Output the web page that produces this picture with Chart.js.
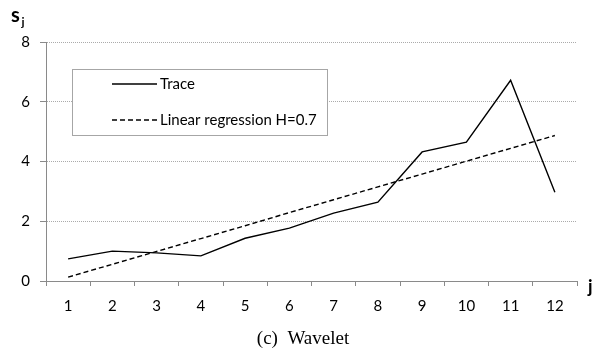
<!DOCTYPE html>
<html>
<head>
<meta charset="utf-8">
<script src="https://cdn.jsdelivr.net/npm/chart.js@4/dist/chart.umd.min.js"></script>
<style>
  html, body { margin: 0; padding: 0; background: #fff; }
  #wrap { width: 603px; height: 354px; position: relative; }
</style>
</head>
<body>
<div id="wrap"><canvas id="c" width="603" height="354"></canvas></div>
<script>
// Scale index j
const categories = ['1', '2', '3', '4', '5', '6', '7', '8', '9', '10', '11', '12'];
// Wavelet estimator s_j per scale
const traceValues = [0.74, 1.00, 0.94, 0.84, 1.43, 1.77, 2.27, 2.64, 4.32, 4.65, 6.72, 2.97];
// Fitted regression line (H = 0.7)
const regressionValues = [0.13, 0.56, 0.99, 1.42, 1.85, 2.29, 2.72, 3.15, 3.58, 4.01, 4.44, 4.87];
const yTicks = [0, 2, 4, 6, 8];
const seriesNames = ['Trace', 'Linear regression H=0.7'];
const captionText = '(c)  Wavelet';

const uiFont = 'Lato, "Open Sans", sans-serif';
const axisGray = '#8a8a8a';

// Boxed legend inside the plot area, drawn from the dataset styles
const boxLegend = {
  id: 'boxLegend',
  afterDatasetsDraw(chart) {
    const ctx = chart.ctx;
    const x0 = 72, y0 = 69, w = 255, h = 66;
    ctx.save();
    ctx.fillStyle = '#fff';
    ctx.fillRect(x0, y0, w, h);
    ctx.strokeStyle = '#a6a6a6';
    ctx.lineWidth = 1;
    ctx.strokeRect(x0 + 0.5, y0 + 0.5, w, h);
    const rows = [84, 120];
    chart.data.datasets.forEach((ds, i) => {
      const y = rows[i];
      ctx.beginPath();
      ctx.setLineDash(ds.borderDash || []);
      ctx.strokeStyle = ds.borderColor;
      ctx.lineWidth = 1.3;
      ctx.moveTo(112, y);
      ctx.lineTo(157, y);
      ctx.stroke();
      ctx.setLineDash([]);
      ctx.fillStyle = '#000';
      ctx.font = '15px ' + uiFont;
      ctx.textBaseline = 'middle';
      ctx.textAlign = 'left';
      ctx.fillText(ds.label, 160, y);
    });
    ctx.restore();
  }
};

// Axis names and figure caption
const annotations = {
  id: 'annotations',
  afterDraw(chart) {
    const ctx = chart.ctx;
    ctx.save();
    ctx.fillStyle = '#000';
    ctx.textBaseline = 'alphabetic';
    ctx.textAlign = 'left';
    ctx.font = 'bold 20px ' + uiFont;
    ctx.fillText('s', 11, 22);
    ctx.font = 'bold 12px ' + uiFont;
    ctx.fillText('j', 21.5, 26);
    ctx.font = 'bold 18px ' + uiFont;
    ctx.fillText('j', 588, 293);
    ctx.font = '19px "Liberation Serif", "Times New Roman", serif';
    ctx.textAlign = 'center';
    ctx.fillText(captionText, 303, 344);
    ctx.restore();
  }
};

new Chart(document.getElementById('c'), {
  type: 'line',
  data: {
    labels: categories,
    datasets: [
      {
        label: seriesNames[0],
        data: traceValues,
        borderColor: '#000',
        borderWidth: 1.4,
        pointRadius: 0,
        tension: 0,
        fill: false
      },
      {
        label: seriesNames[1],
        data: regressionValues,
        borderColor: '#000',
        borderWidth: 1.4,
        borderDash: [5, 3],
        pointRadius: 0,
        tension: 0,
        fill: false
      }
    ]
  },
  options: {
    responsive: false,
    animation: false,
    devicePixelRatio: 1,
    layout: { padding: { left: 0, top: 42, right: 26, bottom: 0 } },
    plugins: {
      legend: { display: false },
      tooltip: { enabled: false }
    },
    scales: {
      x: {
        type: 'category',
        offset: true,
        afterFit(scale) { scale.height = 73; },
        grid: {
          offset: true,
          drawOnChartArea: false,
          drawTicks: true,
          tickLength: 5,
          tickColor: axisGray,
          color: axisGray
        },
        border: { display: true, color: axisGray, width: 1 },
        ticks: {
          color: '#000',
          font: { family: uiFont, size: 15 },
          padding: 11,
          maxRotation: 0,
          autoSkip: false
        }
      },
      y: {
        min: 0,
        max: 8,
        afterFit(scale) { scale.width = 46; },
        afterBuildTicks(scale) { scale.ticks = yTicks.map(v => ({ value: v })); },
        grid: {
          color: (c) => (c.tick && c.tick.value === 0) ? 'rgba(0,0,0,0)' : '#ababab',
          lineWidth: 1,
          drawTicks: true,
          tickLength: 6,
          tickColor: axisGray,
          tickBorderDash: []
        },
        border: { display: true, color: axisGray, width: 1, dash: [1, 1] },
        ticks: {
          color: '#000',
          font: { family: uiFont, size: 15 },
          padding: 10
        }
      }
    }
  },
  plugins: [boxLegend, annotations]
});
</script>
</body>
</html>
